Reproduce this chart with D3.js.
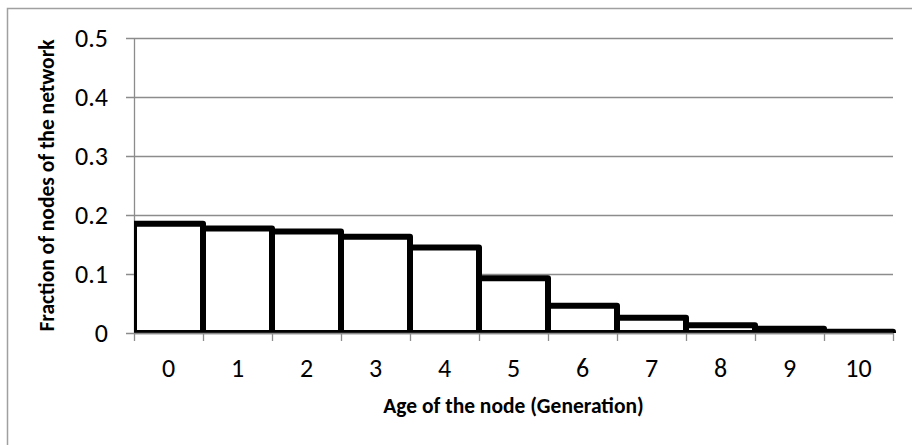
<!DOCTYPE html>
<html>
<head>
<meta charset="utf-8">
<script src="https://cdn.jsdelivr.net/npm/d3@7"></script>
<style>
  body { margin: 0; background: #fff; }
  svg { display: block; font-family: Carlito, Lato, "Open Sans", sans-serif; }
</style>
</head>
<body>
<svg width="912" height="445"></svg>
<script>
// chart data
var ages = ["0", "1", "2", "3", "4", "5", "6", "7", "8", "9", "10"];
var fractions = [0.185, 0.177, 0.172, 0.163, 0.145, 0.093, 0.046, 0.026, 0.013, 0.007, 0.002];
var yTicks = [0, 0.1, 0.2, 0.3, 0.4, 0.5];

var svg = d3.select('svg');

// plot area (note: "top" is taken by window.top, so use plot* names)
var plotLeft = 134, plotRight = 893, plotTop = 38, plotBottom = 333;

// outer chart border (only top + left visible, picture is cropped)
svg.append('path')
    .attr('d', 'M7.5,445 V8.5 H912')
    .style('fill', 'none')
    .style('stroke', '#a0a0a0')
    .style('stroke-width', 1.5);

var xScale = d3.scaleBand()
    .domain(ages)
    .range([plotLeft, plotRight])
    .padding(0);

var yScale = d3.scaleLinear()
    .domain([0, 0.5])
    .range([plotBottom, plotTop]);

// gridlines
svg.append('g')
    .selectAll('line')
    .data(yTicks)
    .enter()
    .append('line')
    .attr('x1', plotLeft - 8)
    .attr('x2', plotRight)
    .attr('y1', function(d) { return Math.round(yScale(d)) + 0.5; })
    .attr('y2', function(d) { return Math.round(yScale(d)) + 0.5; })
    .style('stroke', '#8c8c8c')
    .style('stroke-width', 1.3);

// y axis line
svg.append('line')
    .attr('x1', plotLeft + 0.5).attr('x2', plotLeft + 0.5)
    .attr('y1', plotTop).attr('y2', plotBottom)
    .style('stroke', '#8c8c8c')
    .style('stroke-width', 1.3);

// bars, clipped to the plot area
svg.append('defs').append('clipPath')
    .attr('id', 'clip')
    .append('rect')
    .attr('x', plotLeft)
    .attr('y', plotTop - 10)
    .attr('width', plotRight - plotLeft + 4)
    .attr('height', plotBottom - plotTop + 10);

svg.append('g')
    .attr('clip-path', 'url(#clip)')
    .selectAll('.bar')
    .data(fractions)
    .enter()
    .append('rect')
    .attr('class', 'bar')
    .attr('x', function(d, i) { return xScale(ages[i]); })
    .attr('y', function(d) { return yScale(d); })
    .attr('width', xScale.bandwidth())
    .attr('height', function(d) { return plotBottom - yScale(d); })
    .style('fill', '#fff')
    .style('stroke', '#000')
    .style('stroke-width', 6)
    .style('stroke-linejoin', 'round');

// x axis line + ticks
svg.append('line')
    .attr('x1', plotLeft).attr('x2', plotRight)
    .attr('y1', plotBottom + 0.5).attr('y2', plotBottom + 0.5)
    .style('stroke', '#8c8c8c')
    .style('stroke-width', 1.5);

var xTickPos = ages.map(function(a) { return xScale(a); }).concat([plotRight]);
svg.append('g')
    .selectAll('line')
    .data(xTickPos)
    .enter()
    .append('line')
    .attr('x1', function(d) { return Math.round(d) + 0.5; })
    .attr('x2', function(d) { return Math.round(d) + 0.5; })
    .attr('y1', plotBottom)
    .attr('y2', plotBottom + 8)
    .style('stroke', '#8c8c8c')
    .style('stroke-width', 1.3);

// tick labels
svg.append('g')
    .selectAll('text')
    .data(ages)
    .enter()
    .append('text')
    .attr('x', function(d) { return xScale(d) + xScale.bandwidth() / 2; })
    .attr('y', 377)
    .attr('text-anchor', 'middle')
    .style('font-size', '26px')
    .style('fill', '#000')
    .text(function(d) { return d; });

svg.append('g')
    .selectAll('text')
    .data(yTicks)
    .enter()
    .append('text')
    .attr('x', 108)
    .attr('y', function(d) { return yScale(d) + 8.5; })
    .attr('text-anchor', 'end')
    .style('font-size', '26px')
    .style('fill', '#000')
    .text(function(d) { return d === 0 ? '0' : d3.format('.1f')(d); });

// axis titles
svg.append('text')
    .attr('x', (plotLeft + plotRight) / 2)
    .attr('y', 413)
    .attr('text-anchor', 'middle')
    .style('font-size', '21.5px')
    .style('font-weight', 'bold')
    .text('Age of the node (Generation)');

svg.append('text')
    .attr('transform', 'translate(54,' + ((plotTop + plotBottom) / 2) + ') rotate(-90)')
    .attr('text-anchor', 'middle')
    .style('font-size', '21.5px')
    .style('font-weight', 'bold')
    .text('Fraction of nodes of the network');
</script>
</body>
</html>
